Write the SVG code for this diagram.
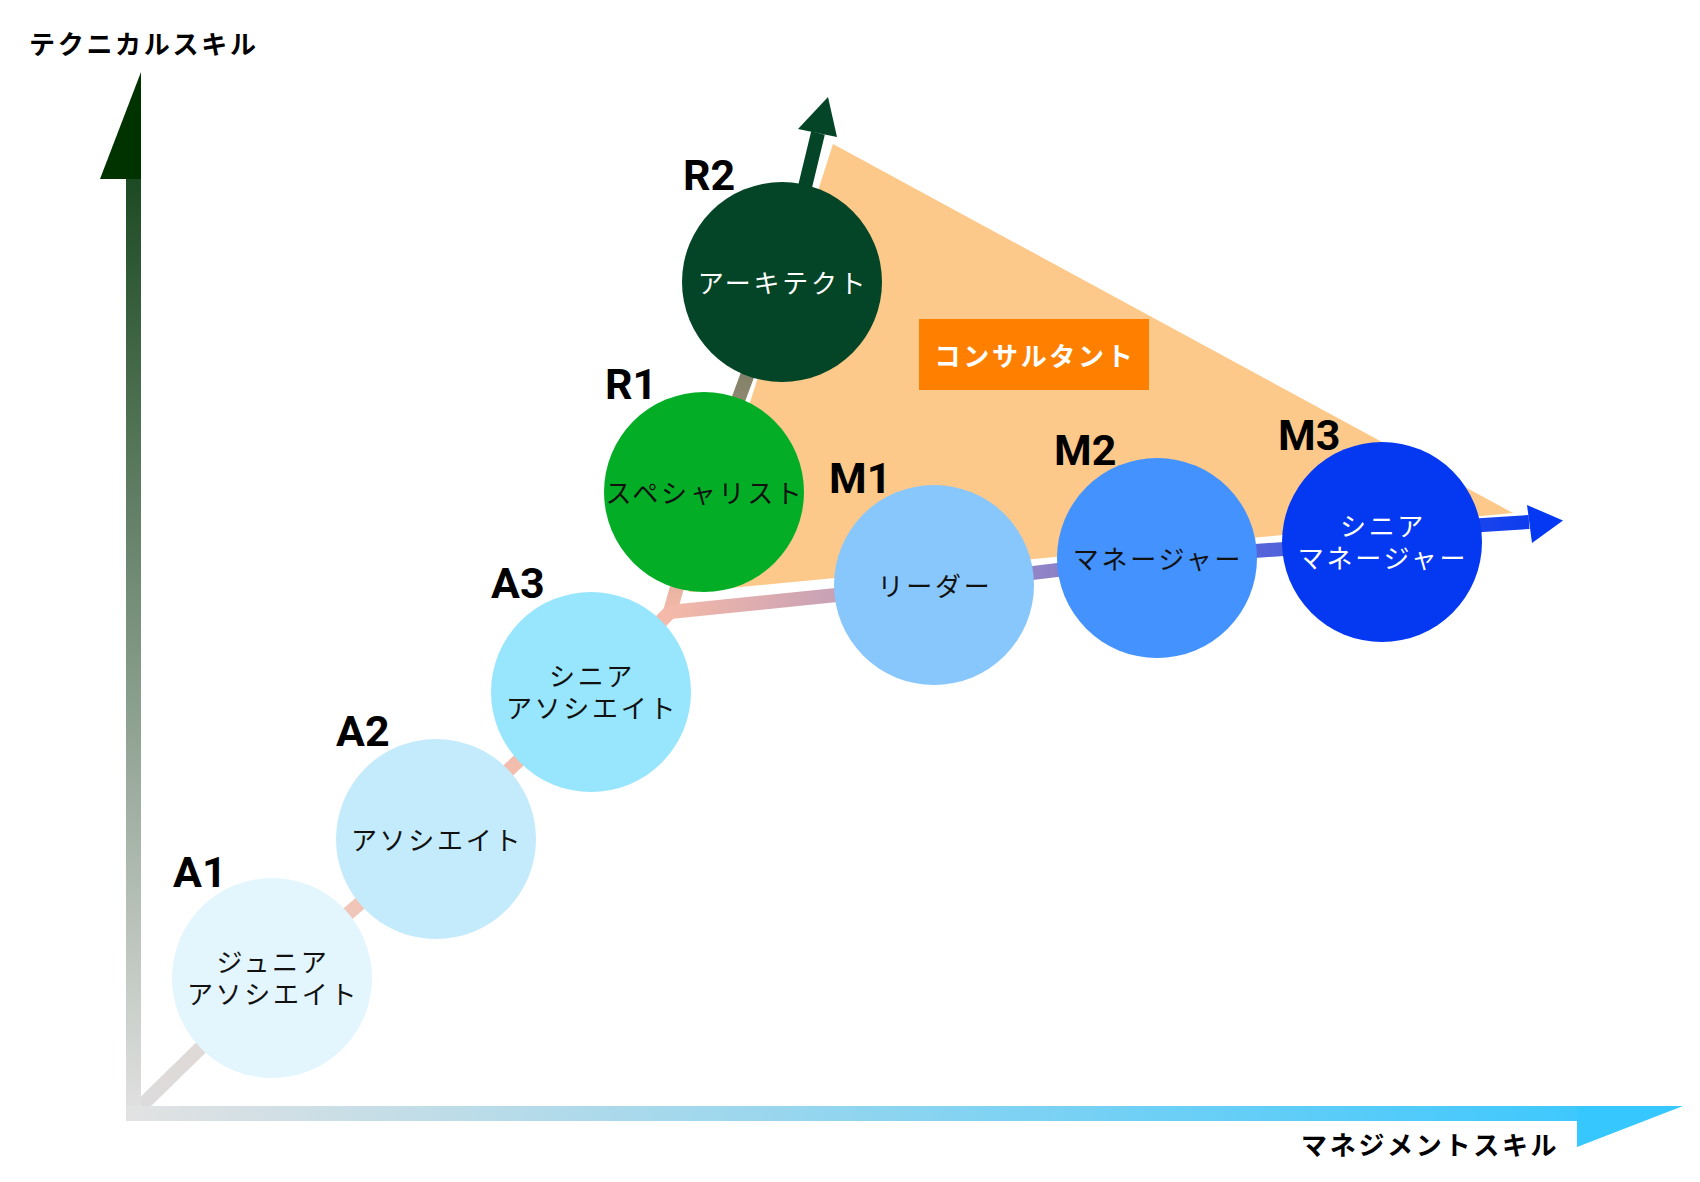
<svg xmlns="http://www.w3.org/2000/svg" width="1700" height="1182" viewBox="0 0 1700 1182">
  <defs>
    <linearGradient id="gV" gradientUnits="userSpaceOnUse" x1="0" y1="72" x2="0" y2="1121">
      <stop offset="0" stop-color="#003300"/>
      <stop offset="0.1" stop-color="#1c4a22"/>
      <stop offset="1" stop-color="#e2e2e2"/>
    </linearGradient>
    <linearGradient id="gH" gradientUnits="userSpaceOnUse" x1="126" y1="0" x2="1683" y2="0">
      <stop offset="0" stop-color="#e2e2e2"/>
      <stop offset="1" stop-color="#33c6ff"/>
    </linearGradient>
    <linearGradient id="gA" gradientUnits="userSpaceOnUse" x1="134" y1="1113" x2="591" y2="692">
      <stop offset="0" stop-color="#dcdcdc"/>
      <stop offset="0.3" stop-color="#e2d6d2"/>
      <stop offset="0.5" stop-color="#f1c4b6"/>
      <stop offset="1" stop-color="#f4b9a8"/>
    </linearGradient>
    <linearGradient id="gR" gradientUnits="userSpaceOnUse" x1="0" y1="612" x2="0" y2="97">
      <stop offset="0" stop-color="#f4b9a8"/>
      <stop offset="0.45" stop-color="#85836a"/>
      <stop offset="0.64" stop-color="#034526"/>
      <stop offset="1" stop-color="#034526"/>
    </linearGradient>
    <linearGradient id="gM" gradientUnits="userSpaceOnUse" x1="670" y1="0" x2="1563" y2="0">
      <stop offset="0" stop-color="#f4b9a8"/>
      <stop offset="1" stop-color="#0438f2"/>
    </linearGradient>
    <style>
      .lvl { font-family: Roboto, "Liberation Sans", sans-serif; font-weight: 700; font-size: 43px; fill: #000; }
      .nt { font-family: "Noto Sans CJK JP", "Noto Sans", sans-serif; font-weight: 400; font-size: 26px; letter-spacing: 2.7px; text-anchor: middle; fill: #111; }
      .nt.w { fill: #fff; }
      .ax { font-family: "Noto Sans CJK JP", "Noto Sans", sans-serif; font-weight: 700; font-size: 26px; letter-spacing: 2.7px; fill: #000; }
      .conn { fill: none; stroke-width: 14; stroke-linejoin: round; }
    </style>
  </defs>
  <rect width="1700" height="1182" fill="#fff"/>

  <g id="consultant-area">
    <polygon points="833,144 1513,513 689,592" fill="#fdc98a"/>
  </g>

  <g id="connectors">
    <polyline class="conn" stroke="url(#gA)" points="134,1113 272,978 436,839 591,692 670,612"/>
    <polyline class="conn" stroke="url(#gR)" points="670,612 704,492 782,282 818,133"/>
    <polygon points="828,97 798,129 837,137" fill="#034526"/>
    <polyline class="conn" stroke="url(#gM)" points="670,612 934,585 1157,558 1382,542 1420,529 1529,522"/>
    <polygon points="1563,520.5 1527,505 1532,543" fill="#0438f2"/>
  </g>

  <g id="axis-technical">
    <polygon points="126,179 141,179 141,1121 126,1121" fill="url(#gV)"/>
    <polygon points="141,72 100,179 141,179" fill="#013300"/>
    <text class="ax" x="29" y="54">テクニカルスキル</text>
  </g>
  <g id="axis-management">
    <polygon points="126,1106 1577,1106 1577,1121 126,1121" fill="url(#gH)"/>
    <polygon points="1577,1106 1683,1106 1577,1147" fill="#36c7ff"/>
    <text class="ax" x="1301" y="1155">マネジメントスキル</text>
  </g>

  <g id="node-A1">
    <circle cx="272" cy="978" r="100" fill="#e3f5fd"/>
    <text class="lvl" x="173" y="887">A1</text>
    <text class="nt"><tspan x="273" y="972">ジュニア</tspan><tspan x="273" dy="32">アソシエイト</tspan></text>
  </g>
  <g id="node-A2">
    <circle cx="436" cy="839" r="100" fill="#c3ebfc"/>
    <text class="lvl" x="336" y="746">A2</text>
    <text class="nt" x="437" y="850">アソシエイト</text>
  </g>
  <g id="node-A3">
    <circle cx="591" cy="692" r="100" fill="#98e6fe"/>
    <text class="lvl" x="491" y="598">A3</text>
    <text class="nt"><tspan x="592" y="686">シニア</tspan><tspan x="592" dy="32">アソシエイト</tspan></text>
  </g>
  <g id="node-R1">
    <circle cx="704" cy="492" r="100" fill="#03ae26"/>
    <text class="lvl" x="605" y="399">R1</text>
    <text class="nt" x="705" y="503">スペシャリスト</text>
  </g>
  <g id="node-R2">
    <circle cx="782" cy="282" r="100" fill="#034526"/>
    <text class="lvl" x="683" y="190">R2</text>
    <text class="nt w" x="783" y="293">アーキテクト</text>
  </g>
  <g id="node-M1">
    <circle cx="934" cy="585" r="100" fill="#88c7fc"/>
    <text class="lvl" x="829" y="493">M1</text>
    <text class="nt" x="935" y="596">リーダー</text>
  </g>
  <g id="node-M2">
    <circle cx="1157" cy="558" r="100" fill="#4392fe"/>
    <text class="lvl" x="1054" y="465">M2</text>
    <text class="nt" x="1158" y="569">マネージャー</text>
  </g>
  <g id="node-M3">
    <circle cx="1382" cy="542" r="100" fill="#0438f1"/>
    <text class="lvl" x="1278" y="450">M3</text>
    <text class="nt w"><tspan x="1383" y="536">シニア</tspan><tspan x="1383" dy="32">マネージャー</tspan></text>
  </g>

  <g id="label-consultant">
    <rect x="919" y="319" width="230" height="71" fill="#ff8000"/>
    <text class="ax" x="1035" y="366" text-anchor="middle" style="fill:#fff">コンサルタント</text>
  </g>
</svg>
